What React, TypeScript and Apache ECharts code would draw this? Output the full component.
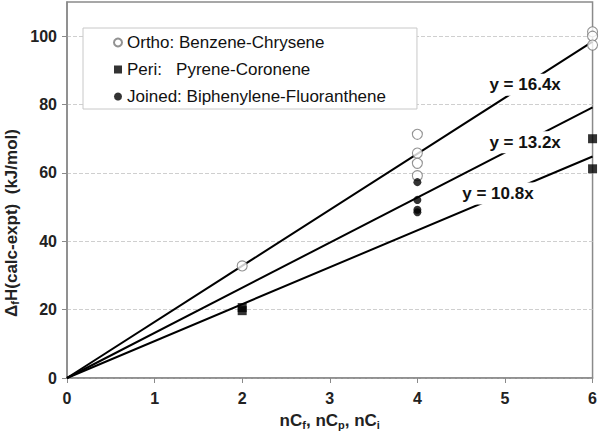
import React, { useEffect, useRef } from "react";
import * as echarts from "echarts";

const xTicks = [0, 1, 2, 3, 4, 5, 6];
const yTicks = [0, 20, 40, 60, 80, 100];

const orthoName = "Ortho: Benzene-Chrysene";
const periName = "Peri:   Pyrene-Coronene";
const joinedName = "Joined: Biphenylene-Fluoranthene";

const orthoX = [2, 4, 4, 4, 4, 6, 6, 6];
const orthoY = [32.8, 71.3, 65.8, 62.8, 59.2, 101.3, 100.0, 97.4];
const periX = [2, 2, 6, 6];
const periY = [20.6, 19.7, 70.0, 61.2];
const joinedX = [4, 4, 4, 4];
const joinedY = [57.3, 52.1, 49.2, 48.5];

const fitLabels = ["y = 16.4x", "y = 13.2x", "y = 10.8x"];
const fitStartX = [0, 0, 0];
const fitStartY = [0, 0, 0];
const fitEndX = [6, 6, 6];
const fitEndY = [98.4, 79.2, 64.8];
const labelX = [5.23, 5.23, 4.92];
const labelY = [85.8, 69.0, 54.0];

const FONT = "'Liberation Sans', Arial, sans-serif";

function pairs(xs: number[], ys: number[]) {
  return xs.map((x, i) => [x, ys[i]]);
}

export default function App() {
  const ref = useRef<HTMLDivElement>(null);
  useEffect(() => {
    if (!ref.current) return;
    const chart = echarts.init(ref.current, undefined, { renderer: "svg" });
    const fitSeries = fitLabels.map((l, i) => ({
      type: "line",
      name: "fit" + i,
      data: [
        [fitStartX[i], fitStartY[i]],
        [fitEndX[i], fitEndY[i]],
      ],
      symbol: "none",
      lineStyle: { color: "#000", width: 2 },
      z: 1,
      silent: true,
      markPoint: {
        silent: true,
        symbol: "rect",
        symbolSize: [76, 22],
        itemStyle: { color: "#ffffff", borderWidth: 0 },
        label: {
          show: true,
          position: "inside",
          formatter: () => l,
          fontSize: 17,
          fontWeight: "bold",
          color: "#111",
          fontFamily: FONT,
        },
        data: [{ coord: [labelX[i], labelY[i]] }],
        z: 5,
      },
    }));
    const option: any = {
      animation: false,
      backgroundColor: "#fff",
      textStyle: { fontFamily: FONT },
      grid: {
        left: 67,
        right: 6,
        top: 2,
        bottom: 62,
        show: true,
        borderColor: "#8a8a8a",
        borderWidth: 1.5,
        backgroundColor: "transparent",
      },
      legend: {
        orient: "vertical",
        left: 83,
        top: 28,
        data: [orthoName, periName, joinedName],
        padding: [6, 31, 4, 30],
        itemGap: 10,
        itemWidth: 8,
        itemHeight: 8,
        backgroundColor: "#fff",
        borderColor: "#c8c8c8",
        borderWidth: 1,
        borderRadius: 0,
        textStyle: { fontSize: 17, color: "#111", fontFamily: FONT },
        z: 10,
      },
      xAxis: {
        type: "value",
        min: 0,
        max: 6,
        interval: 1,
        axisLine: { show: true, lineStyle: { color: "#8a8a8a", width: 1.5 } },
        axisTick: { show: true, length: 5, lineStyle: { color: "#8a8a8a" } },
        splitLine: { show: false },
        axisLabel: { fontSize: 16, fontWeight: "bold", color: "#222", margin: 12, fontFamily: FONT },
        name: "{m|nC}{s|f}{m|, nC}{s|p}{m|, nC}{s|i}",
        nameLocation: "middle",
        nameGap: 32,
        nameTextStyle: {
          rich: {
            m: { fontSize: 17, fontWeight: "bold", color: "#222", fontFamily: FONT, lineHeight: 20, verticalAlign: "middle" },
            s: { fontSize: 11, fontWeight: "bold", color: "#222", fontFamily: FONT, lineHeight: 20, verticalAlign: "bottom", padding: [8, 0, 0, 0] },
          },
        },
      },
      yAxis: {
        type: "value",
        min: 0,
        max: 110,
        interval: 20,
        axisLine: { show: true, lineStyle: { color: "#8a8a8a", width: 1.5 } },
        axisTick: { show: true, length: 5, lineStyle: { color: "#8a8a8a" }, customValues: yTicks },
        splitLine: { show: true, lineStyle: { color: "#cfcfcf", type: "dashed", width: 1 } },
        axisLabel: { fontSize: 16, fontWeight: "bold", color: "#222", margin: 10, fontFamily: FONT, customValues: yTicks },
      },
      graphic: [
        {
          type: "text",
          x: 11,
          y: 223,
          rotation: Math.PI / 2,
          style: {
            text: "{m|Δ}{s|f}{m|H(calc-expt)  (kJ/mol)}",
            align: "center",
            verticalAlign: "middle",
            rich: {
              m: { fontSize: 17, fontWeight: "bold", fill: "#222", fontFamily: FONT, lineHeight: 20 },
              s: { fontSize: 11, fontWeight: "bold", fill: "#222", fontFamily: FONT, lineHeight: 20, padding: [8, 0, 0, 0] },
            },
          },
        },
      ],
      series: [
        ...fitSeries,
        {
          type: "scatter",
          name: orthoName,
          data: pairs(orthoX, orthoY),
          symbol: "circle",
          symbolSize: 10,
          itemStyle: { color: "#fff", borderColor: "#777", borderWidth: 1.1 },
          z: 3,
        },
        {
          type: "scatter",
          name: periName,
          data: pairs(periX, periY),
          symbol: "rect",
          symbolSize: 9,
          itemStyle: { color: "#000" },
          z: 3,
        },
        {
          type: "scatter",
          name: joinedName,
          data: pairs(joinedX, joinedY),
          symbol: "circle",
          symbolSize: 8,
          itemStyle: { color: "#000" },
          z: 3,
        },
      ],
    };
    chart.setOption(option);
    return () => chart.dispose();
  }, []);
  return (
    <div
      ref={ref}
      style={{ position: "fixed", left: 0, top: 0, width: 600, height: 440 }}
    />
  );
}
